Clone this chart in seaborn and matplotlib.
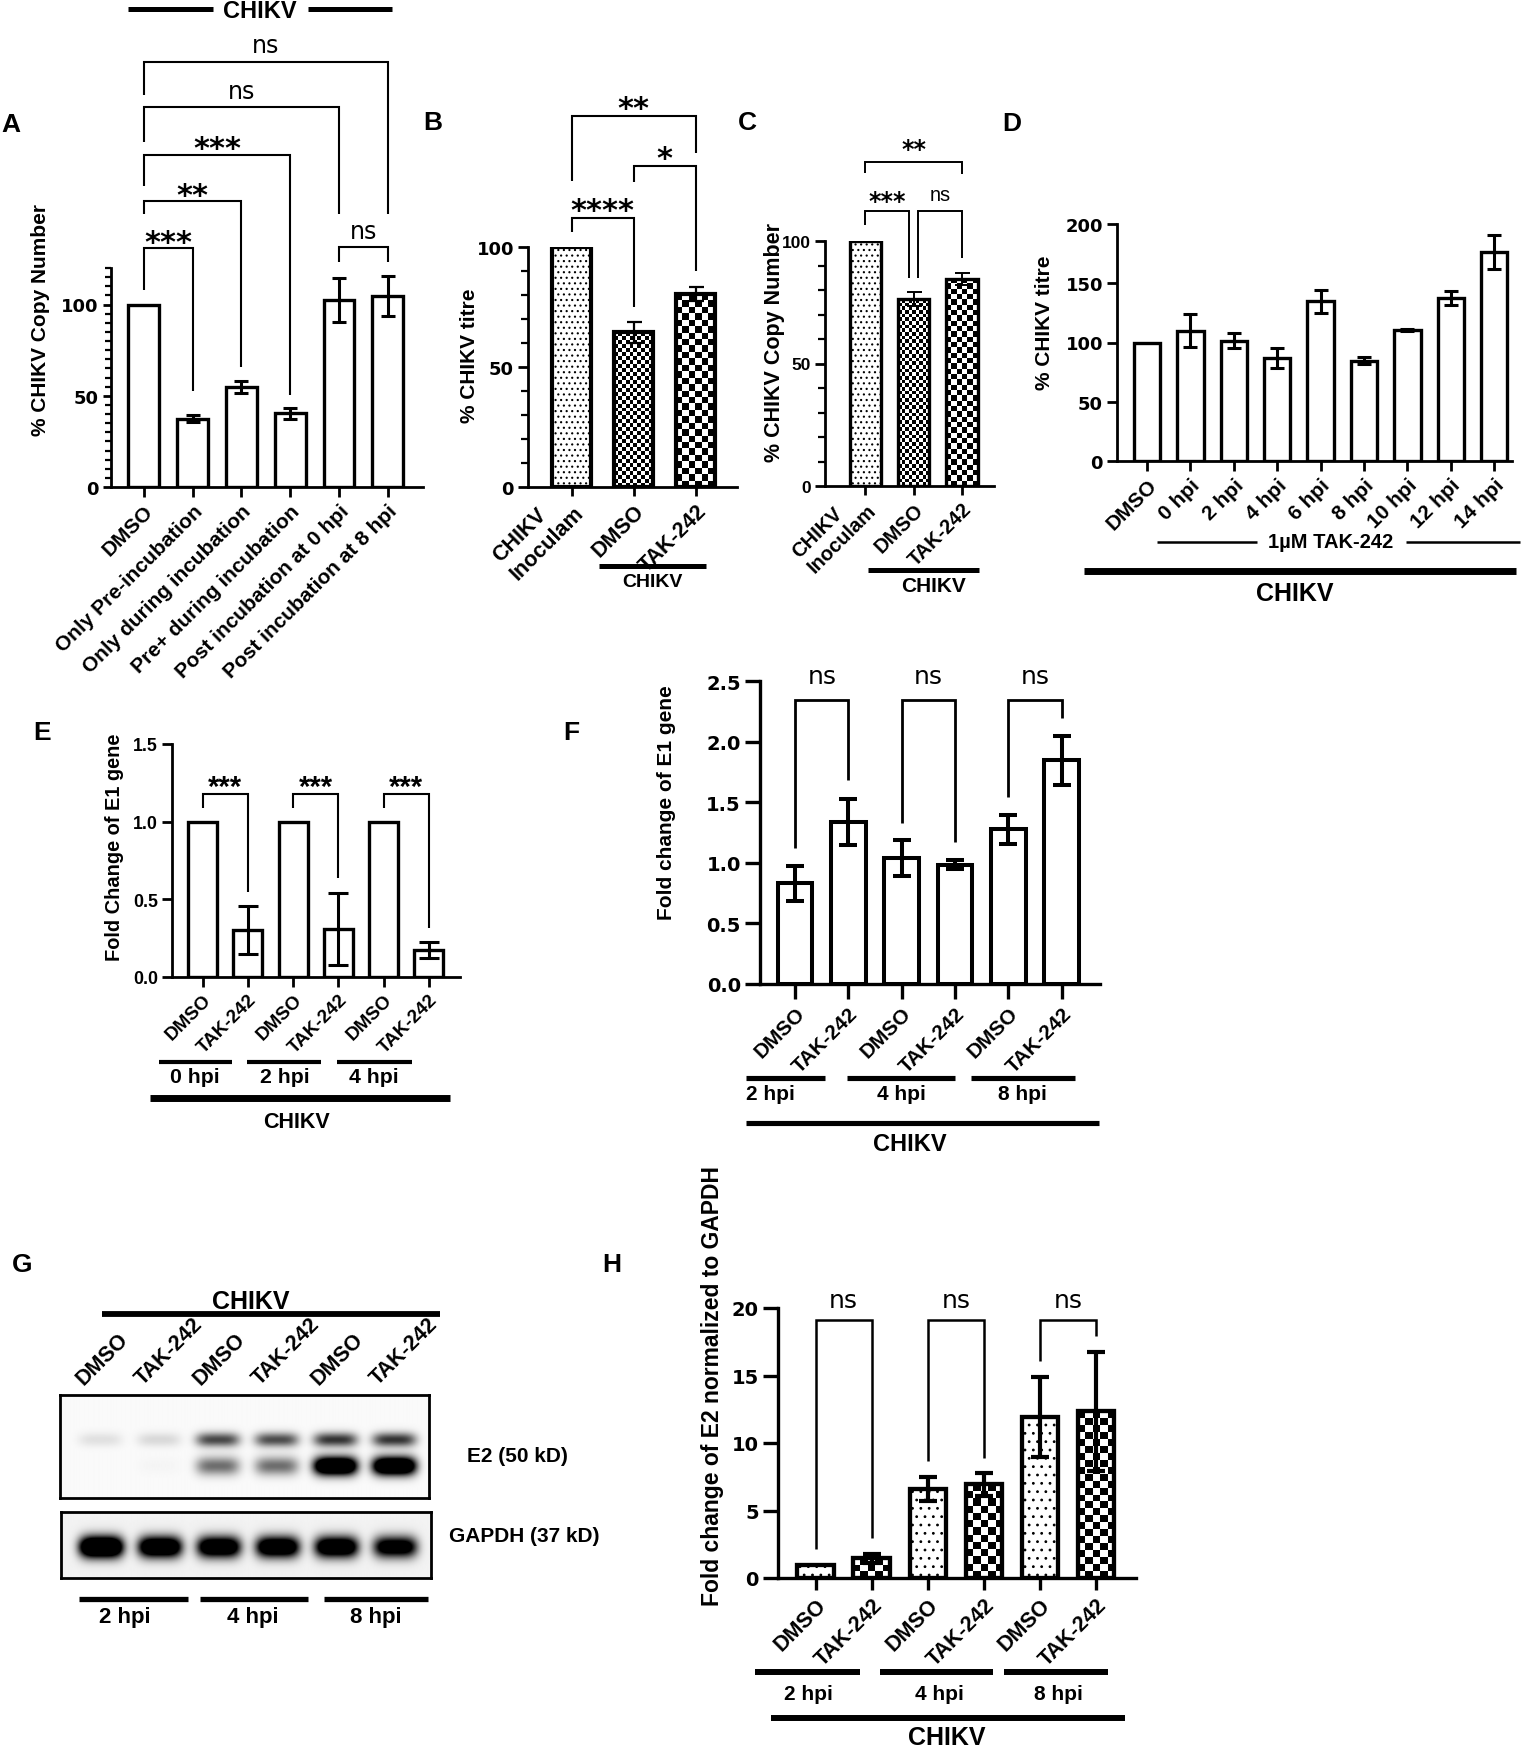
import numpy as np
import seaborn as sns
import matplotlib.pyplot as plt
import matplotlib.transforms as mtransforms
from matplotlib import font_manager
from matplotlib.colors import ListedColormap

W, H, DPI = 1525, 1749, 100

# ---------------- values ----------------
a_labels = ["DMSO", "Only Pre-incubation", "Only during incubation",
            "Pre+ during incubation", "Post incubation at 0 hpi", "Post incubation at 8 hpi"]
a_mean = [100, 37.5, 54.8, 40.3, 102.5, 104.8]
a_err = [0, 2.0, 3.5, 2.8, 12.0, 11.0]

b_labels = ["CHIKV\nInoculam", "DMSO", "TAK-242"]
b_mean = [100, 64.5, 80.3]
b_err = [0, 4.3, 3.0]

c_labels = ["CHIKV\nInoculam", "DMSO", "TAK-242"]
c_mean = [100, 76.3, 84.5]
c_err = [0, 2.9, 2.6]

d_labels = ["DMSO", "0 hpi", "2 hpi", "4 hpi", "6 hpi", "8 hpi", "10 hpi", "12 hpi", "14 hpi"]
d_mean = [100, 110, 101.5, 86.8, 134.6, 84.5, 110.3, 137.5, 176.5]
d_err = [0, 13.8, 6.4, 8.3, 9.6, 2.9, 1.0, 6.2, 14.4]

pair_labels = ["DMSO", "TAK-242"] * 3

e_mean = [1.0, 0.30, 1.0, 0.31, 1.0, 0.175]
e_err = [0, 0.155, 0, 0.23, 0, 0.05]
e_groups = ["0 hpi", "2 hpi", "4 hpi"]

f_mean = [0.83, 1.34, 1.04, 0.985, 1.275, 1.845]
f_err = [0.145, 0.19, 0.145, 0.04, 0.12, 0.205]
f_groups = ["2 hpi", "4 hpi", "8 hpi"]

h_mean = [1.0, 1.45, 6.6, 6.95, 11.95, 12.35]
h_err = [0, 0.36, 0.87, 0.84, 2.95, 4.4]
h_groups = ["2 hpi", "4 hpi", "8 hpi"]

# western blot band strengths per lane (1 = saturated)
g_lanes = ["DMSO", "TAK-242"] * 3
g_groups = ["2 hpi", "4 hpi", "8 hpi"]
g_e2_upper = [0.10, 0.13, 0.70, 0.68, 0.78, 0.78]
g_e2_lower = [0.0, 0.02, 0.55, 0.55, 1.8, 1.8]
g_gapdh = [1.9, 1.6, 1.5, 1.5, 1.5, 1.3]

# significance brackets: (x1, x2, bar y, left end, right end, label, label y)
a_sig = [(0, 1, 131, 107.8, 52.4, "***", 138.8),
         (0, 2, 156.7, 149.5, 66, "**", 164.7),
         (0, 3, 181.9, 164.7, 50.5, "***", 190.3),
         (0, 4, 208.3, 189.3, 149.5, "ns", 216.5),
         (0, 5, 233, 214.6, 149.5, "ns", 241.7),
         (4, 5, 131.5, 123.3, 123.3, "ns", 140.2)]
b_sig = [(0, 1, 112.1, 106.3, 74.9, "****", 118.8),
         (1, 2, 133.8, 127.2, 89.8, "*", 140.4),
         (0, 2, 154.7, 127.4, 139, "**", 161.3)]
c_sig = [(0, 0.91, 112.2, 106.5, 85.0, "***", 119),
         (1.09, 2, 112.2, 85.0, 93.2, "ns", 119),
         (0, 2, 132.4, 127.9, 127.2, "**", 140.1)]
e_sig = [(0, 1, 1.178, 1.086, 0.546, "***", 1.275),
         (2, 3, 1.178, 1.086, 0.636, "***", 1.275),
         (4, 5, 1.178, 1.086, 0.317, "***", 1.275)]
f_sig = [(0, 1, 2.34, 1.126, 1.68, "ns", 2.536),
         (2, 3, 2.34, 1.332, 1.173, "ns", 2.536),
         (4, 5, 2.34, 1.547, 2.198, "ns", 2.536)]
h_sig = [(0, 1, 19.09, 2.17, 2.96, "ns", 20.57),
         (2, 3, 19.09, 8.64, 8.91, "ns", 20.57),
         (4, 5, 19.09, 16.1, 17.93, "ns", 20.57)]

# ---------------- style ----------------
sns.set_theme(style="ticks", rc={
    "axes.edgecolor": "black", "xtick.color": "black", "ytick.color": "black",
    "text.color": "black", "axes.labelcolor": "black",
    "lines.solid_capstyle": "butt", "lines.solid_joinstyle": "miter",
    "hatch.linewidth": 0.8, "hatch.color": "black",
})
plt.rcParams["font.family"] = ["Liberation Sans", "DejaVu Sans"]

installed = {f.name for f in font_manager.fontManager.ttflist}
ARIAL = "Liberation Sans"
HEAVY = "DejaVu Sans"
if "Liberation Sans Narrow" in installed:
    NARROW, NS = "Liberation Sans Narrow", 1.0
else:
    NARROW, NS = "Liberation Sans", 0.85

fig = plt.figure(figsize=(W / DPI, H / DPI), dpi=DPI)


def yfig(y):
    return 1 - y / H


def px_axes(box):
    left, right, top, bottom = box
    return fig.add_axes([left / W, yfig(bottom), (right - left) / W, (bottom - top) / H])


def finish(ax, xlim, ylim, spine, ylen, xlen):
    ax.set_xlim(*xlim)
    ax.set_ylim(*ylim)
    sns.despine(ax=ax)
    for s in ("left", "bottom"):
        ax.spines[s].set_linewidth(spine)
    ax.tick_params(axis="y", which="major", length=ylen, width=spine, pad=3)
    ax.tick_params(axis="x", which="major", length=xlen, width=spine, pad=3)


def yticks(ax, vals, labels, fs, family=HEAVY):
    ax.set_yticks(vals, labels, fontsize=fs, fontweight="bold", family=family)


def xticks(ax, labels, fs, family=ARIAL):
    ax.set_xticks(range(len(labels)), labels, rotation=45, ha="right", va="top",
                  rotation_mode="anchor", fontsize=fs, fontweight="bold",
                  family=family, multialignment="left")
    # two-line labels: second line starts at the tick, first line sits above it
    for t in ax.get_xticklabels():
        if "\n" in t.get_text():
            t.set_va("center")


def ylabel(ax, box, text, cx, cy, fs, family=ARIAL):
    left, right, top, bottom = box
    ax.set_ylabel(text, fontsize=fs, fontweight="bold", family=family)
    ax.yaxis.set_label_coords((cx - left) / (right - left), (bottom - cy) / (bottom - top))
    ax.yaxis.label.set_va("center")


def draw_bars(ax, means, errs, width, lw, elw, cap):
    pos = list(range(len(means)))
    sns.barplot(x=pos, y=means, color="white", edgecolor="black", linewidth=lw,
                width=width, saturation=1, errorbar=None, ax=ax, zorder=2)
    keep = [i for i, e in enumerate(errs) if e > 0]
    ax.errorbar([pos[i] for i in keep], [means[i] for i in keep],
                yerr=[errs[i] for i in keep], fmt="none", ecolor="black",
                elinewidth=elw, capsize=cap, capthick=elw, zorder=4)
    return list(ax.patches)


def checker(ax, bar, cell):
    # checkerboard fill clipped to the bar
    bar.set_facecolor("none")
    x0, y0, w, h = bar.get_x(), bar.get_y(), bar.get_width(), bar.get_height()
    p0 = ax.transData.transform((x0, y0))
    p1 = ax.transData.transform((x0 + w, y0 + h))
    nx = max(1, int(round(abs(p1[0] - p0[0]) / cell)))
    ny = max(1, int(round(abs(p1[1] - p0[1]) / cell)))
    grid = (np.add.outer(np.arange(ny), np.arange(nx)) % 2).astype(float)
    im = ax.imshow(grid, cmap=ListedColormap(["white", "black"]), extent=(x0, x0 + w, y0, y0 + h),
                   origin="lower", aspect="auto", interpolation="nearest", zorder=1.9)
    im.set_clip_path(bar)


def bracket(ax, x1, x2, y, y1, y2, lw):
    ax.plot([x1, x1, x2, x2], [y1, y, y, y2], color="black", lw=lw, clip_on=False, zorder=5)


def sig(ax, x, y, s, fs, family=HEAVY, weight="normal"):
    k = 0.56 if "*" in s else 0.27
    tr = mtransforms.offset_copy(ax.transData, fig=fig, y=-k * fs, units="points")
    ax.text(x, y, s, transform=tr, ha="center", va="baseline", fontsize=fs,
            family=family, fontweight=weight, clip_on=False)


def draw_sig(ax, rows, lw, star_fs, ns_fs, star_family=HEAVY, ns_family=HEAVY):
    for x1, x2, yb, l1, l2, lab, ty in rows:
        bracket(ax, x1, x2, yb, l1, l2, lw)
        if "*" in lab:
            sig(ax, (x1 + x2) / 2, ty, lab, star_fs, star_family, "bold")
        else:
            sig(ax, (x1 + x2) / 2, ty, lab, ns_fs, ns_family, "normal")


def gline(ax, x1, x2, y, lw):
    tr = mtransforms.blended_transform_factory(ax.transData, fig.transFigure)
    ax.add_line(plt.Line2D([x1, x2], [yfig(y), yfig(y)], transform=tr, color="black",
                           lw=lw, clip_on=False, solid_capstyle="butt"))


def gtext(ax, x, y, s, fs, family=ARIAL, **kw):
    tr = mtransforms.blended_transform_factory(ax.transData, fig.transFigure)
    opts = dict(ha="center", va="center")
    opts.update(kw)
    ax.text(x, yfig(y), s, transform=tr, fontsize=fs, fontweight="bold",
            family=family, clip_on=False, **opts)


def letter(x, y, s):
    fig.text(x / W, yfig(y), s, fontsize=19, fontweight="bold", family=ARIAL,
             ha="center", va="center")


# ---------------- A ----------------
A_BOX = (111, 423, 269, 488)
ax = px_axes(A_BOX)
draw_bars(ax, a_mean, a_err, 0.63, 2.4, 2.2, 5)
finish(ax, (-0.67, 5.72), (0, 120), 2.0, 6, 7)
yticks(ax, [0, 50, 100], ["0", "50", "100"], 13)
ax.set_yticks(np.arange(0, 121, 5), minor=True)
ax.tick_params(axis="y", which="minor", length=4, width=1.6)
xticks(ax, a_labels, 15)
ylabel(ax, A_BOX, "% CHIKV Copy Number", 41, 320, 15)
draw_sig(ax, a_sig, 1.5, 22, 17)
letter(11, 125, "A")
fig.add_artist(plt.Line2D([128 / W, 213 / W], [yfig(10)] * 2, color="black", lw=3.6))
fig.add_artist(plt.Line2D([308 / W, 392 / W], [yfig(10)] * 2, color="black", lw=3.6))
fig.text(260 / W, yfig(11), "CHIKV", fontsize=17, fontweight="bold", family=ARIAL,
         ha="center", va="center")

# ---------------- B ----------------
B_BOX = (528, 737, 248, 488)
ax = px_axes(B_BOX)
bars = draw_bars(ax, b_mean, b_err, 0.63, 3.0, 1.6, 5.4)
finish(ax, (-0.71, 2.67), (0, 100), 2.0, 7, 6.5)
yticks(ax, [0, 50, 100], ["0", "50", "100"], 13)
ax.set_yticks(np.arange(0, 101, 10), minor=True)
ax.tick_params(axis="y", which="minor", length=5, width=1.6)
bars[0].set_hatch("...")
checker(ax, bars[1], 4.0)
checker(ax, bars[2], 6.5)
xticks(ax, b_labels, 15.5)
ylabel(ax, B_BOX, "% CHIKV titre", 470, 356, 15)
draw_sig(ax, b_sig, 1.5, 22, 17)
gline(ax, 0.44, 2.17, 567, 3.6)
gtext(ax, 1.31, 583, "CHIKV", 14)
letter(433, 123, "B")

# ---------------- C ----------------
C_BOX = (825, 994, 242, 487)
ax = px_axes(C_BOX)
bars = draw_bars(ax, c_mean, c_err, 0.66, 2.4, 1.4, 5.4)
finish(ax, (-0.84, 2.67), (0, 100), 2.0, 7, 6.5)
yticks(ax, [0, 50, 100], ["0", "50", "100"], 12.5, ARIAL)
ax.set_yticks(np.arange(0, 101, 10), minor=True)
ax.tick_params(axis="y", which="minor", length=5, width=1.6)
bars[0].set_hatch("...")
checker(ax, bars[1], 3.7)
checker(ax, bars[2], 5.3)
xticks(ax, c_labels, 14.5)
ylabel(ax, C_BOX, "% CHIKV Copy Number", 774, 342, 15.5)
draw_sig(ax, c_sig, 1.4, 17, 17 * NS, ns_family=NARROW)
gline(ax, 0.05, 2.36, 571, 3.6)
gtext(ax, 1.41, 587, "CHIKV", 15)
letter(747, 123, "C")

# ---------------- D ----------------
D_BOX = (1117, 1512, 225, 462)
ax = px_axes(D_BOX)
draw_bars(ax, d_mean, d_err, 0.61, 2.4, 2.2, 5)
finish(ax, (-0.69, 8.41), (0, 200), 2.0, 7, 7)
yticks(ax, [0, 50, 100, 150, 200], ["0", "50", "100", "150", "200"], 13)
xticks(ax, d_labels, 15)
ylabel(ax, D_BOX, "% CHIKV titre", 1044, 323, 15)
gline(ax, 0.24, 2.54, 543, 1.8)
gline(ax, 5.97, 8.6, 543, 1.8)
gtext(ax, 4.24, 543, "1µM TAK-242", 14.5)
gline(ax, -1.44, 8.51, 572, 5)
gtext(ax, 3.41, 594, "CHIKV", 18)
letter(1012, 124, "D")

# ---------------- E ----------------
E_BOX = (172, 460, 745, 978)
ax = px_axes(E_BOX)
draw_bars(ax, e_mean, e_err, 0.64, 2.4, 2.2, 7)
finish(ax, (-0.68, 5.69), (0, 1.5), 2.0, 7, 7)
yticks(ax, [0, 0.5, 1.0, 1.5], ["0.0", "0.5", "1.0", "1.5"], 15 * NS, NARROW)
xticks(ax, pair_labels, 16 * NS, NARROW)
ylabel(ax, E_BOX, "Fold Change of E1 gene", 115, 847, 17 * NS, NARROW)
draw_sig(ax, e_sig, 1.5, 21, 16, star_family=ARIAL)
for k, (x1, x2) in enumerate([(-0.97, 0.65), (0.97, 2.61), (2.96, 4.62)]):
    gline(ax, x1, x2, 1063, 3.0)
    gtext(ax, [-0.17, 1.82, 3.79][k], 1078, e_groups[k], 18 * NS, NARROW)
gline(ax, -1.17, 5.47, 1099, 5)
gtext(ax, 2.07, 1123, "CHIKV", 15.5)
letter(42, 733, "E")

# ---------------- F ----------------
F_BOX = (760, 1100, 682, 985)
ax = px_axes(F_BOX)
draw_bars(ax, f_mean, f_err, 0.65, 2.9, 2.9, 6.5)
finish(ax, (-0.66, 5.72), (0, 2.5), 2.4, 10.8, 10.8)
yticks(ax, [0, 0.5, 1.0, 1.5, 2.0, 2.5], ["0.0", "0.5", "1.0", "1.5", "2.0", "2.5"], 14)
xticks(ax, pair_labels, 15)
ylabel(ax, F_BOX, "Fold change of E1 gene", 666, 803, 15)
draw_sig(ax, f_sig, 2.0, 22, 18)
for k, (x1, x2) in enumerate([(-0.92, 0.56), (0.98, 3.0), (3.3, 5.25)]):
    gline(ax, x1, x2, 1078.6, 3.7)
    gtext(ax, [-0.46, 2.0, 4.27][k], 1095, f_groups[k], 15)
gline(ax, -0.92, 5.7, 1123.8, 3.7)
gtext(ax, 2.16, 1145, "CHIKV", 17)
letter(571, 733, "F")

# ---------------- G (western blot) ----------------
G_XLIM = (-0.68, 5.6)


def blot(box, centers, sigmas, rows, haze):
    bx = px_axes(box)
    hgt = box[3] - box[2]
    xs = np.linspace(G_XLIM[0], G_XLIM[1], 500)
    ys = np.arange(hgt) + 0.5
    img = np.full((hgt, xs.size), haze)
    for cy, sg, vals in zip(centers, sigmas, rows):
        vprof = np.exp(-0.5 * ((ys - cy) / sg) ** 2)
        for i, v in enumerate(vals):
            hprof = np.exp(-((xs - i) / 0.37) ** 4)
            img += v * np.outer(vprof, hprof)
    bx.imshow(np.clip(img, 0, 1), cmap="gray_r", vmin=0, vmax=1,
              extent=(xs[0], xs[-1], hgt, 0), aspect="auto", interpolation="bilinear")
    bx.set_xlim(*G_XLIM)
    bx.set_ylim(hgt, 0)
    bx.set_xticks([])
    bx.set_yticks([])
    for s in bx.spines.values():
        s.set_visible(True)
        s.set_linewidth(2.0)
        s.set_color("black")
    return bx


gx = blot((60, 429, 1396, 1499), [44.7, 71], [5.0, 6.5], [g_e2_upper, g_e2_lower], 0.02)
blot((61, 431, 1513, 1579), [35], [7.5], [g_gapdh], 0.05)
for i, lab in enumerate(g_lanes):
    gtext(gx, i - 0.22, 1390, lab, 15.5, ha="left", va="bottom", rotation=45, rotation_mode="anchor")
fig.add_artist(plt.Line2D([102 / W, 440 / W], [yfig(1315)] * 2, color="black", lw=4.2))
fig.text(251 / W, yfig(1302), "CHIKV", fontsize=18, fontweight="bold", family=ARIAL,
         ha="center", va="center")
fig.text(467 / W, yfig(1457), "E2 (50 kD)", fontsize=15, fontweight="bold", family=ARIAL,
         ha="left", va="center")
fig.text(449 / W, yfig(1537), "GAPDH (37 kD)", fontsize=15, fontweight="bold", family=ARIAL,
         ha="left", va="center")
for k, (x1, x2) in enumerate([(-0.35, 1.49), (1.70, 3.54), (3.82, 5.59)]):
    gline(gx, x1, x2, 1600, 3.8)
    gtext(gx, [0.42, 2.6, 4.69][k], 1618, g_groups[k], 16)
letter(22, 1265, "G")

# ---------------- H ----------------
H_BOX = (778, 1136, 1309, 1579)
ax = px_axes(H_BOX)
bars = draw_bars(ax, h_mean, h_err, 0.65, 3.1, 3.0, 6.3)
finish(ax, (-0.67, 5.71), (0, 20), 2.4, 10.8, 8.6)
yticks(ax, [0, 5, 10, 15, 20], ["0", "5", "10", "15", "20"], 14)
for i, b in enumerate(bars):
    if i % 2 == 0:
        b.set_hatch("..")
    else:
        checker(ax, b, 7.0)
xticks(ax, pair_labels, 15.5)
ylabel(ax, H_BOX, "Fold change of E2 normalized to GAPDH", 712, 1386, 16.5)
draw_sig(ax, h_sig, 1.8, 22, 18)
for k, (x1, x2) in enumerate([(-1.08, 0.79), (1.15, 3.16), (3.36, 5.21)]):
    gline(ax, x1, x2, 1673, 4.3)
    gtext(ax, [-0.12, 2.21, 4.32][k], 1695, h_groups[k], 15)
gline(ax, -0.8, 5.51, 1719, 4.3)
gtext(ax, 2.33, 1738, "CHIKV", 18)
letter(612, 1265, "H")

fig.savefig("out.png", dpi=DPI)
